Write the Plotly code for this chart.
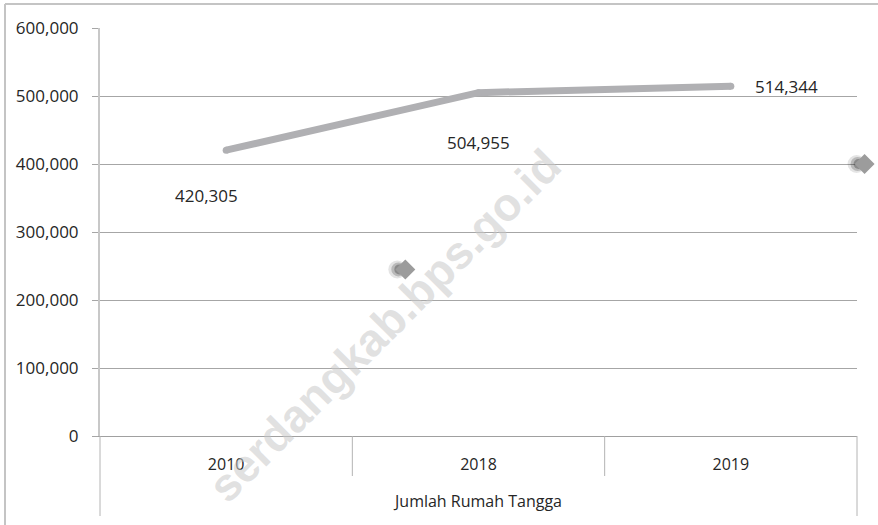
import plotly.graph_objects as go

# ---- data ----
categories = ["2010", "2018", "2019"]
group_label = "Jumlah Rumah Tangga"
households = [420305, 504955, 514344]
value_labels = ["420,305", "504,955", "514,344"]
# stray diamond markers in the reference (position on category scale, value)
stray_x = [0.71, 2.53]
stray_y = [245000, 400000]
y_ticks = [0, 100000, 200000, 300000, 400000, 500000, 600000]
y_max = 600000
watermark = "serdangkab.bps.go.id"

W, H = 878, 525
ML, MR, MT, MB = 100, 21, 28, 89
PW, PH = W - ML - MR, H - MT - MB

def px_to_paper(px, py):
    return (px - ML) / PW, (H - MB - py) / PH

FONT = "Open Sans"
TXT = "#262626"
n = len(categories)
x_idx = list(range(n))

fig = go.Figure()

# main line
fig.add_trace(go.Scatter(
    x=x_idx, y=households, mode="lines+markers",
    line=dict(color="#b0b0b3", width=7),
    marker=dict(size=7, color="#b0b0b3"),
    showlegend=False, cliponaxis=False))

# stray diamonds (drawn as paper shapes so the one beyond the last category is not hidden)
dxp, dyp = 10 / PW, 10 / PH
for sx, sy in zip(stray_x, stray_y):
    cx = (sx + 0.5) / n
    cy = sy / y_max
    for r, off, alpha in [(9, 8, 0.12), (7, 7, 0.22), (5, 6, 0.3)]:
        fig.add_shape(type="circle", xref="paper", yref="paper",
                      x0=cx - (off + r) / PW, x1=cx - (off - r) / PW,
                      y0=cy - r / PH, y1=cy + r / PH,
                      fillcolor=f"rgba(30,30,30,{alpha})", line=dict(width=0))
    path = (f"M {cx - dxp} {cy} L {cx} {cy + dyp} L {cx + dxp} {cy} "
            f"L {cx} {cy - dyp} Z")
    fig.add_shape(type="path", xref="paper", yref="paper", path=path,
                  fillcolor="#9c9c9c", line=dict(width=0))

# data labels
label_offsets = [(-20, -45, "center"), (0, -50, "center"), (22, 0, "left")]
for xi, yv, lab, (dx, dy, anc) in zip(x_idx, households, value_labels, label_offsets):
    fig.add_annotation(x=xi, y=yv, xref="x", yref="y", text=lab, showarrow=False,
                       xshift=dx, yshift=dy, xanchor=anc, yanchor="middle",
                       font=dict(family=FONT, size=17, color=TXT))

# category dividers (Excel-style multi-level axis)
inner_bottom = -40 / PH
outer_bottom = -80 / PH
for i in range(n + 1):
    xp = i / n
    y1 = outer_bottom if i in (0, n) else inner_bottom
    fig.add_shape(type="line", xref="paper", yref="paper", x0=xp, x1=xp, y0=0, y1=y1,
                  line=dict(color="#b4b4b4", width=1))

# outer chart border (left & top)
bx0, by0 = px_to_paper(5, 4)
bx1, by1 = px_to_paper(W + 5, H + 5)
fig.add_shape(type="line", xref="paper", yref="paper", x0=bx0, x1=bx0, y0=by0, y1=by1,
              line=dict(color="#c4c4c4", width=2))
fig.add_shape(type="line", xref="paper", yref="paper", x0=bx0, x1=bx1, y0=by0, y1=by0,
              line=dict(color="#c4c4c4", width=2))

# watermark
wx, wy = px_to_paper(384, 326)
fig.add_annotation(x=wx, y=wy, xref="paper", yref="paper", text=watermark, showarrow=False,
                   textangle=-45, xanchor="center", yanchor="middle",
                   font=dict(family="Liberation Sans", size=46, color="rgba(200,200,200,0.55)",
                             weight="bold"))

fig.update_layout(
    width=W, height=H,
    margin=dict(l=ML, r=MR, t=MT, b=MB, pad=0),
    paper_bgcolor="white", plot_bgcolor="white",
    font=dict(family=FONT, size=16, color=TXT),
    showlegend=False,
    xaxis=dict(
        range=[-0.5, n - 0.5], tickvals=x_idx, ticktext=categories,
        showgrid=False, zeroline=False, showline=True, linecolor="#a0a0a0", linewidth=1,
        ticks="", ticklabelstandoff=14, tickfont=dict(family=FONT, size=16, color=TXT),
        title=dict(text=group_label, standoff=21, font=dict(family=FONT, size=16, color=TXT)),
        fixedrange=True),
    yaxis=dict(
        range=[0, y_max], tickvals=y_ticks, tickformat=",",
        showgrid=True, gridcolor="#a6a6a6", gridwidth=1, zeroline=False,
        showline=True, linecolor="#c8c8c8", linewidth=2,
        ticks="outside", ticklen=6, tickcolor="#a6a6a6",
        ticklabelstandoff=10,
        tickfont=dict(family=FONT, size=17, color=TXT), fixedrange=True),
)

fig.write_html("out.html", config={"displayModeBar": False},
               post_script="document.body.style.margin='0px';")
